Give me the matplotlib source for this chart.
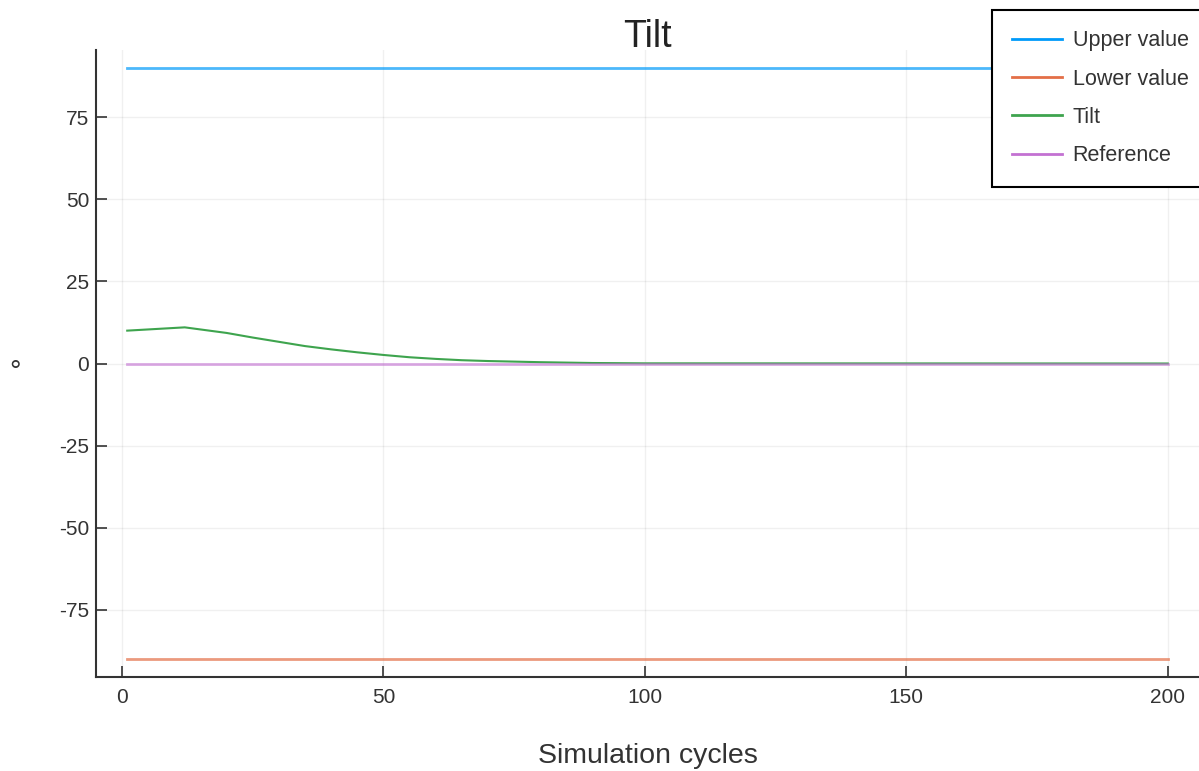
import matplotlib
matplotlib.use("Agg")
import matplotlib.pyplot as plt

# ---- data ----
bound_x = [1, 200]
upper_value = [90, 90]
lower_value = [-90, -90]
reference = [0, 0]
tilt_x = [1, 12, 20, 25, 30, 35, 40, 45, 50, 55, 60, 65, 70, 80, 90, 100, 200]
tilt_y = [10.0, 11.0, 9.3, 7.9, 6.6, 5.3, 4.3, 3.4, 2.6, 1.9, 1.4, 1.0, 0.75, 0.4, 0.15, 0.05, 0.0]
x_ticks = [0, 50, 100, 150, 200]
y_ticks = [-75, -50, -25, 0, 25, 50, 75]
series_labels = ["Upper value", "Lower value", "Tilt", "Reference"]
colors = ["#009AFA", "#E36F47", "#3EA44E", "#C371D2"]

plt.rcParams["font.family"] = ["Liberation Sans", "DejaVu Sans"]
plt.rcParams["axes.unicode_minus"] = False

W, H = 1199, 771
fig = plt.figure(figsize=(W / 100, H / 100), dpi=100)
ax = fig.add_axes([96 / W, 1 - 677 / H, (1199 - 96) / W, (677 - 50) / H])

ax.plot(bound_x, upper_value, color=colors[0], lw=2.0, alpha=0.7, label=series_labels[0])
ax.plot(bound_x, lower_value, color=colors[1], lw=2.0, alpha=0.7, label=series_labels[1])
ax.plot(tilt_x, tilt_y, color=colors[2], lw=1.5, label=series_labels[2])
ax.plot(bound_x, reference, color=colors[3], lw=2.0, alpha=0.6, label=series_labels[3])

ax.set_xlim(1 - 0.03 * 199, 200 + 0.03 * 199)
ax.set_ylim(-95.4, 95.4)
ax.set_xticks(x_ticks)
ax.set_yticks(y_ticks)
ax.set_xticklabels([str(v) for v in x_ticks])
ax.set_yticklabels([str(v) for v in y_ticks])

ax.grid(True, color="black", alpha=0.06, lw=1.0)
ax.set_axisbelow(True)
for s in ["top", "right"]:
    ax.spines[s].set_visible(False)
for s in ["left", "bottom"]:
    ax.spines[s].set_color("#333333")
    ax.spines[s].set_linewidth(1.5)
ax.tick_params(direction="in", length=8, width=1.2, color="#333333",
               labelsize=15, labelcolor="#333333")
ax.tick_params(axis="y", pad=5)
ax.tick_params(axis="x", pad=8)

ax.set_title("Tilt", fontsize=27, color="#222222", y=1.0, pad=2)
ax.set_xlabel("Simulation cycles", fontsize=20.5, color="#333333", labelpad=25.5)
ax.set_ylabel("°", fontsize=20.5, color="#333333", rotation=0)
ax.yaxis.set_label_coords((15 - 96) / (1199 - 96), 0.5 - 23 / 627)

leg = ax.legend(loc="upper left", bbox_to_anchor=(992 / W, 1 - 10 / H),
                bbox_transform=fig.transFigure, fontsize=15.5, frameon=True,
                fancybox=False, framealpha=1, edgecolor="black",
                handlelength=2.3, handletextpad=0.5, labelspacing=0.8,
                borderpad=0.95, borderaxespad=0)
leg.get_frame().set_linewidth(1.5)
for t in leg.get_texts():
    t.set_color("#333333")
for l in leg.get_lines():
    l.set_alpha(1.0)
    l.set_linewidth(2.0)

fig.savefig("out.png", dpi=100)
